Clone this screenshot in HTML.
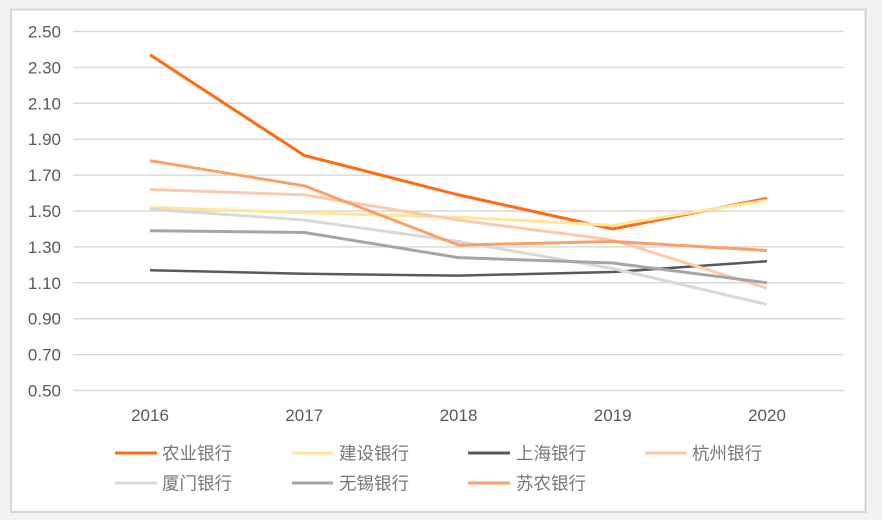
<!DOCTYPE html>
<html><head><meta charset="utf-8">
<style>
html,body{margin:0;padding:0;background:#f2f2f2;}
svg{display:block;}
text{font-family:"Liberation Sans","Noto Sans CJK SC",sans-serif;fill:#595959;}
.lg text{fill:#767676;}
</style></head>
<body>
<svg width="882" height="520" viewBox="0 0 882 520" xmlns="http://www.w3.org/2000/svg">
<rect x="0" y="0" width="882" height="520" fill="#f2f2f2"/>
<rect x="11" y="9.5" width="854.5" height="502.5" fill="#ffffff" stroke="#d6d6d6" stroke-width="2"/>
<g stroke="#d9d9d9" stroke-width="1.5">
<line x1="73" x2="844" y1="31.5" y2="31.5"/>
<line x1="73" x2="844" y1="67.4" y2="67.4"/>
<line x1="73" x2="844" y1="103.3" y2="103.3"/>
<line x1="73" x2="844" y1="139.2" y2="139.2"/>
<line x1="73" x2="844" y1="175.1" y2="175.1"/>
<line x1="73" x2="844" y1="211" y2="211"/>
<line x1="73" x2="844" y1="246.9" y2="246.9"/>
<line x1="73" x2="844" y1="282.8" y2="282.8"/>
<line x1="73" x2="844" y1="318.7" y2="318.7"/>
<line x1="73" x2="844" y1="354.6" y2="354.6"/>
<line x1="73" x2="844" y1="390.5" y2="390.5"/>
</g>
<g font-size="17" text-anchor="end">
<text x="61" y="37.5">2.50</text>
<text x="61" y="73.4">2.30</text>
<text x="61" y="109.3">2.10</text>
<text x="61" y="145.2">1.90</text>
<text x="61" y="181.1">1.70</text>
<text x="61" y="217">1.50</text>
<text x="61" y="252.9">1.30</text>
<text x="61" y="288.8">1.10</text>
<text x="61" y="324.7">0.90</text>
<text x="61" y="360.6">0.70</text>
<text x="61" y="396.5">0.50</text>
</g>
<g font-size="17" text-anchor="middle">
<text x="150" y="421">2016</text>
<text x="304.2" y="421">2017</text>
<text x="458.5" y="421">2018</text>
<text x="612.7" y="421">2019</text>
<text x="767" y="421">2020</text>
</g>
<g fill="none" stroke-linejoin="round" stroke-linecap="butt">
<polyline stroke="#FF6A13" stroke-width="3" points="150,54.8 304.2,155.4 458.5,194.9 612.7,229 767,198.4"/>
<polyline stroke="#FFE699" stroke-width="3" points="150,207.4 304.2,212.8 458.5,217.2 612.7,225.3 767,200.2"/>
<polyline stroke="#595959" stroke-width="2.5" points="150,270.2 304.2,273.8 458.5,275.6 612.7,272 767,261.2"/>
<polyline stroke="#F8CBAD" stroke-width="3" points="150,189.5 304.2,194.9 458.5,220.1 612.7,240 767,288.2"/>
<polyline stroke="#D9D9D9" stroke-width="3" points="150,209.2 304.2,220 458.5,241.5 612.7,268.5 767,304.4"/>
<polyline stroke="#A5A5A5" stroke-width="3" points="150,230.7 304.2,232.5 458.5,257.6 612.7,263 767,282.8"/>
<polyline stroke="#F9A065" stroke-width="3" points="150,160.7 304.2,185.8 458.5,245.1 612.7,241.5 767,250.5"/>
</g>
<g stroke-width="3">
<line x1="115" x2="157" y1="453" y2="453" stroke="#FF6A13"/>
<line x1="292" x2="333" y1="453" y2="453" stroke="#FFE699"/>
<line x1="468" x2="510" y1="453" y2="453" stroke="#595959"/>
<line x1="645" x2="687" y1="453" y2="453" stroke="#F8CBAD"/>
<line x1="115" x2="157" y1="483" y2="483" stroke="#D9D9D9"/>
<line x1="292" x2="333" y1="483" y2="483" stroke="#A5A5A5"/>
<line x1="468" x2="510" y1="483" y2="483" stroke="#F9A065"/>
</g>
<g font-size="17.5" class="lg">
<text x="162" y="459.5">农业银行</text>
<text x="339" y="459.5">建设银行</text>
<text x="516" y="459.5">上海银行</text>
<text x="692" y="459.5">杭州银行</text>
<text x="162" y="489.5">厦门银行</text>
<text x="339" y="489.5">无锡银行</text>
<text x="516" y="489.5">苏农银行</text>
</g>
</svg>
</body></html>
